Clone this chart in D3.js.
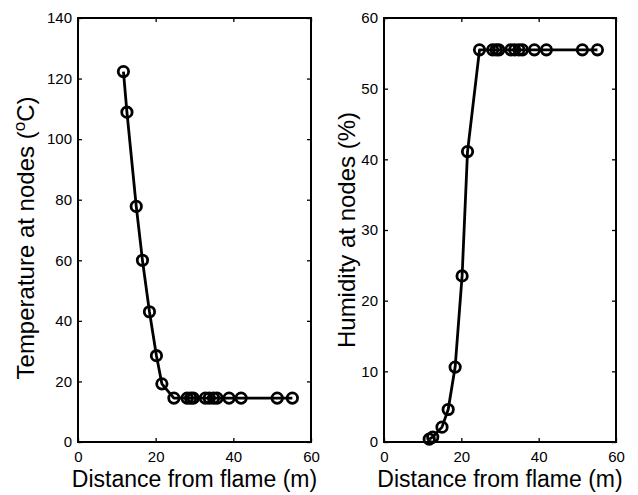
<!DOCTYPE html>
<html>
<head>
<meta charset="utf-8">
<script src="https://cdn.jsdelivr.net/npm/d3@7"></script>
<style>
  body { margin: 0; background: #fff; }
  svg text { font-family: "Liberation Sans", Arial, sans-serif; fill: #000; }
</style>
</head>
<body>
<div id="chart"></div>
<script>
// distance of each node from the flame (m)
const distance = [11.7, 12.6, 15.0, 16.6, 18.4, 20.2, 21.6, 24.7, 28.1, 29.0, 29.7,
                  32.8, 33.8, 34.9, 35.8, 38.9, 42.0, 51.3, 55.2];
const temperature = [122.3, 108.9, 77.8, 60.0, 43.0, 28.5, 19.2, 14.5, 14.5, 14.5, 14.5,
                     14.5, 14.5, 14.5, 14.5, 14.5, 14.5, 14.5, 14.5];
const humidity = [0.4, 0.7, 2.1, 4.6, 10.6, 23.5, 41.1, 55.5, 55.5, 55.5, 55.5,
                  55.5, 55.5, 55.5, 55.5, 55.5, 55.5, 55.5, 55.5];

const xTicks = [0, 20, 40, 60];
const tempTicks = [0, 20, 40, 60, 80, 100, 120, 140];
const humTicks = [0, 10, 20, 30, 40, 50, 60];

const W = 638, H = 495;
const svg = d3.select("#chart").append("svg")
    .attr("width", W).attr("height", H);

function panel(opts) {
    const { left, right, top, bottom, xs, ys, yMax, yTickVals, yLabel, labelX, labelY } = opts;

    const x = d3.scaleLinear().domain([0, 60]).range([left, right]);
    const y = d3.scaleLinear().domain([0, yMax]).range([bottom, top]);
    const tl = 4;

    const g = svg.append("g");

    // ticks, all pointing inward (matlab box style)
    const xb = g.append("g").attr("transform", `translate(0,${bottom})`)
        .call(d3.axisBottom(x).tickValues(xTicks).tickSize(-tl).tickPadding(9).tickFormat(d3.format("d")));
    const xt = g.append("g").attr("transform", `translate(0,${top})`)
        .call(d3.axisTop(x).tickValues(xTicks).tickSize(-tl).tickFormat(""));
    const yl = g.append("g").attr("transform", `translate(${left},0)`)
        .call(d3.axisLeft(y).tickValues(yTickVals).tickSize(-tl).tickPadding(6).tickFormat(d3.format("d")));
    const yr = g.append("g").attr("transform", `translate(${right},0)`)
        .call(d3.axisRight(y).tickValues(yTickVals).tickSize(-tl).tickFormat(""));

    [xb, xt, yl, yr].forEach(a => {
        a.select(".domain").remove();
        a.selectAll(".tick line").attr("stroke", "#000").attr("stroke-width", 1.3);
        a.selectAll("text").attr("font-size", 15).attr("font-family", "Liberation Sans, Arial, sans-serif");
    });

    // box
    g.append("rect")
        .attr("x", left).attr("y", top)
        .attr("width", right - left).attr("height", bottom - top)
        .attr("fill", "none").attr("stroke", "#000").attr("stroke-width", 2);

    // line + circle markers
    const pts = xs.map((d, i) => [d, ys[i]]);
    g.append("path")
        .datum(pts)
        .attr("fill", "none").attr("stroke", "#000").attr("stroke-width", 2.8)
        .attr("stroke-linejoin", "round")
        .attr("d", d3.line().x(d => x(d[0])).y(d => y(d[1])));

    g.selectAll("circle.m")
        .data(pts)
        .enter().append("circle")
        .attr("class", "m")
        .attr("cx", d => x(d[0])).attr("cy", d => y(d[1]))
        .attr("r", 5.2)
        .attr("fill", "none").attr("stroke", "#000").attr("stroke-width", 2.8);

    // x label
    g.append("text")
        .attr("x", (left + right) / 2).attr("y", bottom + 45)
        .attr("text-anchor", "middle").attr("font-size", 23)
        .text("Distance from flame (m)");

    // y label
    const yt = g.append("text")
        .attr("transform", `translate(${labelX},${labelY}) rotate(-90)`)
        .attr("text-anchor", "middle").attr("font-size", 24);
    yLabel(yt);
}

panel({
    left: 78, right: 311, top: 18, bottom: 442,
    xs: distance, ys: temperature, yMax: 140, yTickVals: tempTicks, labelX: 34, labelY: 238,
    yLabel: t => {
        t.append("tspan").text("Temperature at nodes (");
        t.append("tspan").attr("baseline-shift", "super").attr("font-size", 17).text("o");
        t.append("tspan").text("C)");
    }
});

panel({
    left: 384, right: 616, top: 18, bottom: 442,
    xs: distance, ys: humidity, yMax: 60, yTickVals: humTicks, labelX: 355, labelY: 230,
    yLabel: t => t.text("Humidity at nodes (%)")
});
</script>
</body>
</html>
